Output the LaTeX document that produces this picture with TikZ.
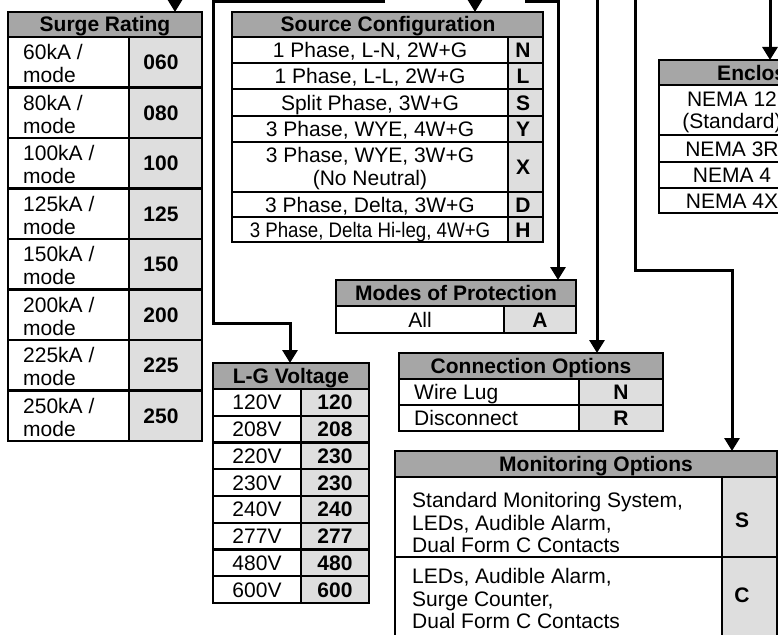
\documentclass[tikz,border=0pt]{standalone}
\usepackage{fontspec}
\setmainfont{Liberation Sans}
\usepackage{graphicx}
\usetikzlibrary{arrows.meta}
\definecolor{hdr}{RGB}{166,166,166}
\definecolor{codebg}{RGB}{222,222,222}
\tikzset{
 gridline/.style={line width=2.2pt},
 frame/.style={draw, line width=2.3pt, inner sep=0pt, outer sep=0pt, anchor=north west},
 conn/.style={line width=3pt, line join=miter, -{Triangle[width=15pt,length=13pt]}},
 txt/.style={inner sep=0pt, anchor=base, font=\fontsize{21}{23}\selectfont},
 txtl/.style={txt, anchor=base west},
 code/.style={txt, font=\fontsize{21}{23}\selectfont\bfseries},
}
\begin{document}
\begin{tikzpicture}[x=1pt,y=-1pt]
\useasboundingbox (0,0) rectangle (778,634);
\clip (0,0) rectangle (778,634);
\fill[white] (0,0) rectangle (778,634);

% ---------- Surge Rating ----------
\fill[hdr] (8,12) rectangle (202,37);
\fill[codebg] (129,37) rectangle (202,441);
\draw[gridline] (8,37) -- (202,37);
\foreach \i in {1,...,7} \draw[gridline] (8,37+50.5*\i) -- (202,37+50.5*\i);
\draw[gridline] (129,37) -- (129,441);
\node[frame, minimum width=194pt, minimum height=429pt] (surge) at (8,12) {};
\node[code] (surgeH) at (105,32) {Surge Rating};
\foreach \v/\c [count=\i from 0] in {60/060,80/080,100/100,125/125,150/150,200/200,225/225,250/250} {
  \node[txtl] (sra\i) at (23,37+50.5*\i+22.5) {\v kA /};
  \node[txtl] (srb\i) at (23,37+50.5*\i+45.5) {mode};
  \node[code] (src\i) at (161,37+50.5*\i+32.75) {\c};
}

% ---------- Source Configuration ----------
\fill[hdr] (232,12) rectangle (543,37);
\fill[codebg] (508,37) rectangle (543,242);
\foreach \y in {37,63,89,116,142,192,217} \draw[gridline] (232,\y) -- (543,\y);
\draw[gridline] (508,37) -- (508,242);
\node[frame, minimum width=311pt, minimum height=230pt] (source) at (232,12) {};
\node[code] (sourceH) at (388,32) {Source Configuration};
\node[txt] (sc1) at (370,57.5) {1 Phase, L-N, 2W+G};
\node[txt] (sc2) at (370,83.5) {1 Phase, L-L, 2W+G};
\node[txt] (sc3) at (370,110) {Split Phase, 3W+G};
\node[txt] (sc4) at (370,136.5) {3 Phase, WYE, 4W+G};
\node[txt] (sc5a) at (370,162) {3 Phase, WYE, 3W+G};
\node[txt] (sc5b) at (370,185) {(No Neutral)};
\node[txt] (sc6) at (370,212) {3 Phase, Delta, 3W+G};
\node[txt] (sc7) at (370,237) {\scalebox{0.89}[1]{3 Phase, Delta Hi-leg, 4W+G}};
\node[code] (scc1) at (523,57.5) {N};
\node[code] (scc2) at (523,83.5) {L};
\node[code] (scc3) at (523,110) {S};
\node[code] (scc4) at (523,136.5) {Y};
\node[code] (scc5) at (523,174.5) {X};
\node[code] (scc6) at (523,212) {D};
\node[code] (scc7) at (523,237) {H};

% ---------- Enclosure ----------
\fill[hdr] (659,60) rectangle (877,85);
\foreach \y in {85,135,162,188} \draw[gridline] (659,\y) -- (877,\y);
\node[frame, minimum width=218pt, minimum height=153pt] (encl) at (659,60) {};
\node[code] (enclH) at (768,80) {Enclosure};
\node[txt] (en1a) at (732,106.5) {NEMA 12};
\node[txt] (en1b) at (732,128.5) {(Standard)};
\node[txt] (en2) at (732,156) {NEMA 3R};
\node[txt] (en3) at (732,182.5) {NEMA 4};
\node[txt] (en4) at (732,208) {NEMA 4X};

% ---------- Modes of Protection ----------
\fill[hdr] (336,280) rectangle (576,306);
\fill[codebg] (504,306) rectangle (576,333);
\draw[gridline] (336,306) -- (576,306);
\draw[gridline] (504,306) -- (504,333);
\node[frame, minimum width=240pt, minimum height=53pt] (modes) at (336,280) {};
\node[code] (modesH) at (456,300.5) {Modes of Protection};
\node[txt] (mo1) at (420,327) {All};
\node[code] (moc1) at (540,327) {A};

% ---------- Connection Options ----------
\fill[hdr] (399,353) rectangle (663,379);
\fill[codebg] (579,379) rectangle (663,431);
\foreach \y in {379,405} \draw[gridline] (399,\y) -- (663,\y);
\draw[gridline] (579,379) -- (579,431);
\node[frame, minimum width=264pt, minimum height=78pt] (conn) at (399,353) {};
\node[code] (connH) at (531,373.5) {Connection Options};
\node[txtl] (co1) at (414,399.5) {Wire Lug};
\node[txtl] (co2) at (414,425.5) {Disconnect};
\node[code] (coc1) at (621,399.5) {N};
\node[code] (coc2) at (621,425.5) {R};

% ---------- L-G Voltage ----------
\fill[hdr] (213,363) rectangle (369,389);
\fill[codebg] (301,389) rectangle (369,603);
\foreach \i in {0,...,7} \draw[gridline] (213,389+26.75*\i) -- (369,389+26.75*\i);
\draw[gridline] (301,389) -- (301,603);
\node[frame, minimum width=156pt, minimum height=240pt] (lg) at (213,363) {};
\node[code] (lgH) at (291,383.5) {L-G Voltage};
\foreach \v/\c [count=\i from 0] in {120V/120,208V/208,220V/230,230V/230,240V/240,277V/277,480V/480,600V/600} {
  \node[txt] (lgv\i) at (257,389+26.75*\i+20.9) {\v};
  \node[code] (lgc\i) at (335,389+26.75*\i+20.9) {\c};
}

% ---------- Monitoring Options ----------
\fill[hdr] (395,451) rectangle (777,477);
\fill[codebg] (722,477) rectangle (777,641);
\foreach \y in {477,557} \draw[gridline] (395,\y) -- (777,\y);
\draw[gridline] (722,477) -- (722,641);
\node[frame, minimum width=382pt, minimum height=190pt] (mon) at (395,451) {};
\node[code] (monH) at (596,471.5) {Monitoring Options};
\node[txtl] (mn1a) at (412,507) {Standard Monitoring System,};
\node[txtl] (mn1b) at (412,530) {LEDs, Audible Alarm,};
\node[txtl] (mn1c) at (412,552) {Dual Form C Contacts};
\node[txtl] (mn2a) at (412,583) {LEDs, Audible Alarm,};
\node[txtl] (mn2b) at (412,606) {Surge Counter,};
\node[txtl] (mn2c) at (412,628) {Dual Form C Contacts};
\node[code] (mnc1) at (742,527.5) {S};
\node[code] (mnc2) at (742,602.5) {C};

% ---------- Connectors ----------
\coordinate (aIn) at (175,-20);
\draw[conn] (aIn) -- (aIn |- surge.north);

\coordinate (bIn) at (385,2);
\coordinate (b1) at (213,2);
\coordinate (b2) at (213,323);
\coordinate (b3) at (290,323);
\draw[conn] (bIn) -- (b1) -- (b2) -- (b3) -- (b3 |- lg.north);

\coordinate (cIn) at (475,-20);
\draw[conn] (cIn) -- (cIn |- source.north);

\coordinate (dIn) at (525,2);
\coordinate (d1) at (558,2);
\draw[conn] (dIn) -- (d1) -- (d1 |- modes.north);

\coordinate (eIn) at (597,-20);
\draw[conn] (eIn) -- (eIn |- conn.north);

\coordinate (fIn) at (635,-20);
\coordinate (f1) at (635,270);
\coordinate (f2) at (732,270);
\draw[conn] (fIn) -- (f1) -- (f2) -- (f2 |- mon.north);

\coordinate (gIn) at (770,-20);
\draw[conn] (gIn) -- (gIn |- encl.north);
\end{tikzpicture}
\end{document}
